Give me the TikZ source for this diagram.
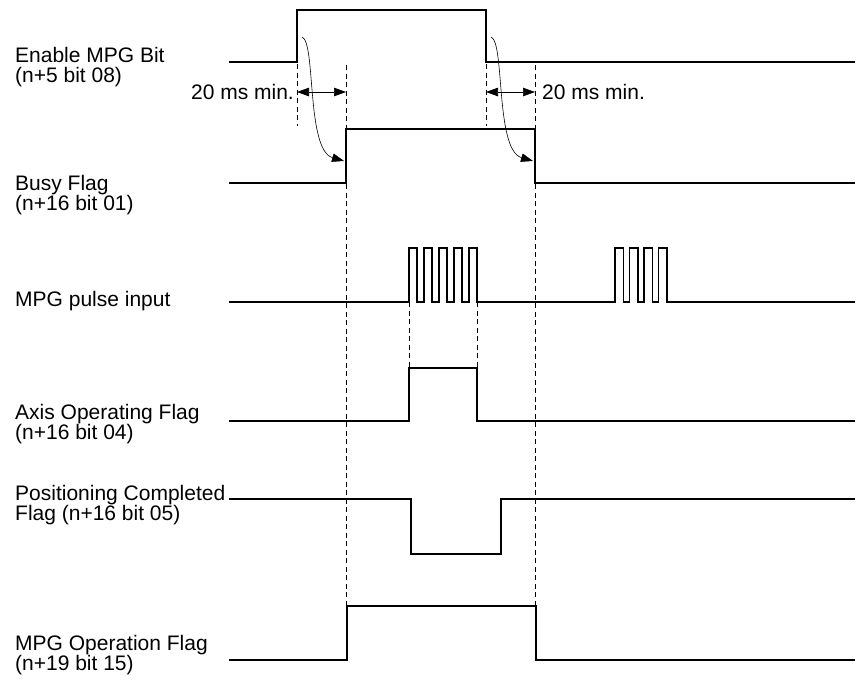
\documentclass[tikz,border=0pt]{standalone}
\usepackage{fontspec}
\setmainfont{Liberation Sans}
\usetikzlibrary{arrows.meta,calc}

\begin{document}
\begin{tikzpicture}[x=1pt, y=-1pt, >={Triangle[length=12pt,width=8.5pt]}]
    \tikzset{
        sig/.style={line width=1.8pt},
        guide/.style={line width=0.7pt, dash pattern=on 5pt off 3.5pt},
        lbl/.style={anchor=base west, align=left, inner sep=0pt, font=\fontsize{21}{20}\selectfont},
        dimtxt/.style={inner sep=0pt, font=\fontsize{21}{20}\selectfont},
    }
    \useasboundingbox (0,0) rectangle (861,681);
    % signal names (base = last line)
    \node[lbl] (en) at (15,82) {Enable MPG Bit\\(n+5 bit 08)};
    \node[lbl] (busy) at (15,210) {Busy Flag\\(n+16 bit 01)};
    \node[lbl] (pulse) at (15,306) {MPG pulse input};
    \node[lbl] (axis) at (15,439) {Axis Operating Flag\\(n+16 bit 04)};
    \node[lbl] (pos) at (15,520) {Positioning Completed\\Flag (n+16 bit 05)};
    \node[lbl] (mpgop) at (15,670) {MPG Operation Flag\\(n+19 bit 15)};
    % edges
    \coordinate (enUp) at (297,92);
    \coordinate (enDn) at (486,92);
    \coordinate (bzUp) at (346,92);
    \coordinate (bzDn) at (535,92);
    % waveforms
    \draw[sig] (229,62) -- (297,62) -- (297,10) -- (486,10) -- (486,62) -- (855,62);
    \draw[sig] (229,183) -- (346,183) -- (346,129) -- (535,129) -- (535,183) -- (855,183);
    \draw[sig] (229,302) foreach \t in {409,424,439,454,469} { -- (\t,302) -- (\t,248) -- (\t+8,248) -- (\t+8,302) }
        foreach \t in {615,629.5,644,658.5} { -- (\t,302) -- (\t,248) -- (\t+8.5,248) -- (\t+8.5,302) } -- (855,302);
    \draw[sig] (229,421) -- (409,421) -- (409,368) -- (477,368) -- (477,421) -- (855,421);
    \draw[sig] (229,499) -- (411,499) -- (411,554) -- (501,554) -- (501,499) -- (855,499);
    \draw[sig] (229,660) -- (347,660) -- (347,606) -- (536,606) -- (536,660) -- (855,660);
    % guide lines
    \draw[guide] (297,64) -- (297,126);
    \draw[guide] (486,64) -- (486,126);
    \draw[guide] (346,65) -- (346,606);
    \draw[guide] (535,65) -- (535,606);
    \draw[guide] (409,302) -- (409,368);
    \draw[guide] (477,302) -- (477,368);
    % 20 ms
    \draw[<->, line width=0.7pt] (enUp) -- (bzUp);
    \draw[<->, line width=0.7pt] (enDn) -- (bzDn);
    \node[dimtxt, anchor=east] (tmin1) at ($(enUp)+(-3,0)$) {20 ms min.};
    \node[dimtxt, anchor=west] (tmin2) at ($(bzDn)+(7,0)$) {20 ms min.};
    % causes
    \draw[->, line width=0.6pt] (302,37) .. controls (316,42) and (306,150) .. (344,161);
    \draw[->, line width=0.6pt] (491,37) .. controls (505,42) and (495,150) .. (533,161);

\end{tikzpicture}
\end{document}
